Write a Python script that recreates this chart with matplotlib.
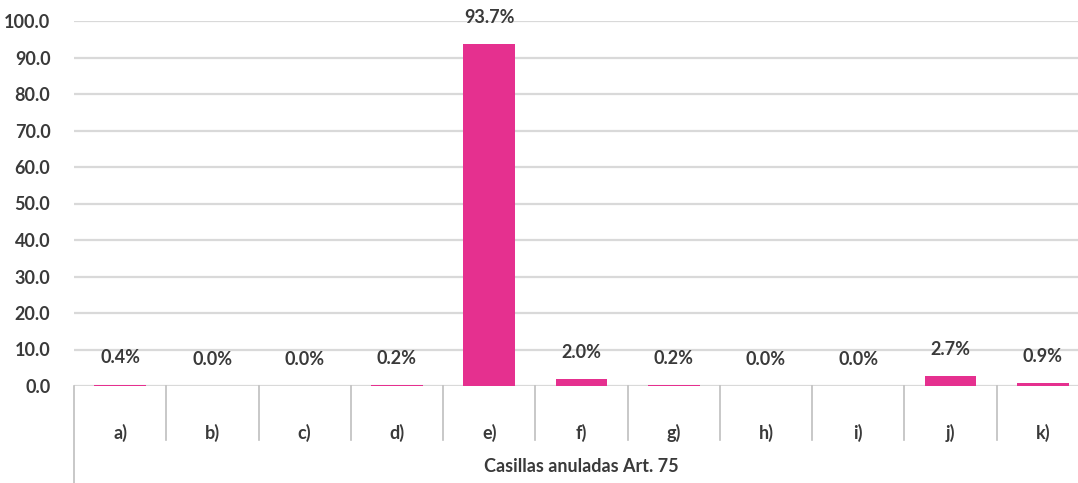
import matplotlib
matplotlib.use("Agg")
import matplotlib.pyplot as plt
import matplotlib.transforms as mtransforms

categories = ["a)", "b)", "c)", "d)", "e)", "f)", "g)", "h)", "i)", "j)", "k)"]
values = [0.4, 0.0, 0.0, 0.2, 93.7, 2.0, 0.2, 0.0, 0.0, 2.7, 0.9]
yticks = [0, 10, 20, 30, 40, 50, 60, 70, 80, 90, 100]
group_label = "Casillas anuladas Art. 75"

plt.rcParams['font.family'] = ['Lato', 'DejaVu Sans']
txt_color = "#3a3a3a"
bar_color = "#E5308F"
fs = 13

fig = plt.figure(figsize=(10.78, 4.83), dpi=100)
W, H = 1078, 483
ax = fig.add_axes([74 / W, 97 / H, 1015 / W, 365 / H])

x = list(range(len(categories)))
ax.bar(x, values, width=0.56, color=bar_color, linewidth=0, zorder=3)

ax.set_xlim(-0.5, len(categories) - 0.5)
ax.set_ylim(0, 100)
ax.set_yticks(yticks)
ax.set_yticklabels([f"{v:.1f}" for v in yticks], fontsize=fs, fontweight='bold', color=txt_color)
ax.yaxis.grid(True, color="#d9d9d9", linewidth=1.6, zorder=0)
ax.tick_params(axis='y', length=0, pad=17)
ax.tick_params(axis='x', length=0, pad=27)
ax.set_xticks(x)
ax.set_xticklabels(categories, fontsize=fs, fontweight='bold', color=txt_color)
for s in ax.spines.values():
    s.set_visible(False)

for xi, v in zip(x, values):
    ax.annotate(f"{v:.1f}%", (xi, v), xytext=(0, 13), textcoords='offset points',
                ha='center', va='bottom', fontsize=fs, fontweight='bold', color=txt_color)

trans = mtransforms.blended_transform_factory(ax.transData, ax.transAxes)
for i in range(len(categories) + 1):
    bottom = -(97 / 365) if i == 0 else -(54 / 365)
    ax.plot([i - 0.5, i - 0.5], [0, bottom], transform=trans, color="#bfbfbf",
            linewidth=1.2, clip_on=False)

ax.text(0.5, -81 / 365, group_label, transform=ax.transAxes, ha='center', va='center',
        fontsize=fs, fontweight='bold', color=txt_color)

fig.savefig("out.png", dpi=100)
